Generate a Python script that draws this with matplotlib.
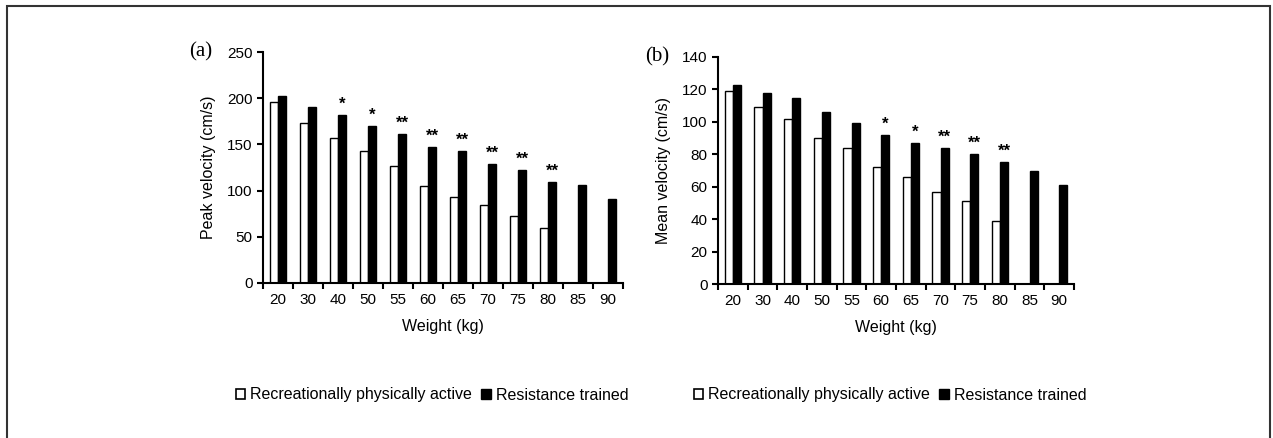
import matplotlib
matplotlib.use('Agg')
import matplotlib.pyplot as plt
from matplotlib.patches import Patch, Rectangle
import numpy as np

plt.rcParams['font.family'] = ['Liberation Sans', 'DejaVu Sans']

weights = ['20', '30', '40', '50', '55', '60', '65', '70', '75', '80', '85', '90']

# panel (a) peak velocity (cm/s)
peak_rec = [196, 173, 157, 143, 127, 105, 93, 84, 73, 59, 0, 0]
peak_res = [202, 191, 182, 170, 161, 147, 143, 129, 122, 109, 106, 91]
peak_sig = ['', '', '*', '*', '**', '**', '**', '**', '**', '**', '', '']

# panel (b) mean velocity (cm/s)
mean_rec = [119, 109, 102, 90, 84, 72, 66, 57, 51, 39, 0, 0]
mean_res = [123, 118, 115, 106, 99, 92, 87, 84, 80, 75, 70, 61]
mean_sig = ['', '', '', '', '', '*', '*', '**', '**', '**', '', '']

W, H = 1273, 438
fig = plt.figure(figsize=(W / 100, H / 100), dpi=100)

# outer frame (bottom edge is cut off in the source)
fig.patches.append(Rectangle((7 / W, -0.05), 1263 / W, 1.05 - 6 / H,
                             transform=fig.transFigure, fill=False,
                             edgecolor='#333333', linewidth=1.5))


def panel(rect, rec, res, sig, ymax, ystep, ylabel, tag):
    ax = fig.add_axes(rect)
    x = np.arange(len(weights))
    bw = 0.28
    ax.bar(x - bw / 2, rec, bw, color='white', edgecolor='black', linewidth=1)
    ax.bar(x + bw / 2, res, bw, color='black', edgecolor='black', linewidth=1)
    for i, s in enumerate(sig):
        if s:
            ax.text(x[i] + bw / 2, res[i] + ymax * 0.015, s, ha='center',
                    va='bottom', fontsize=12, fontweight='bold')
    ax.set_xlim(-0.5, len(weights) - 0.5)
    ax.set_ylim(0, ymax)
    ax.set_yticks(np.arange(0, ymax + 1, ystep))
    ax.set_xticks(x)
    ax.set_xticklabels(weights)
    ax.set_xticks(np.arange(-0.5, len(weights)), minor=True)
    ax.tick_params(axis='x', which='major', length=0, pad=7, labelsize=11)
    ax.tick_params(axis='x', which='minor', length=4, width=1.5, direction='out')
    ax.tick_params(axis='y', length=4, width=1.5, labelsize=11)
    for s in ['top', 'right']:
        ax.spines[s].set_visible(False)
    for s in ['left', 'bottom']:
        ax.spines[s].set_linewidth(1.5)
    ax.set_xlabel('Weight (kg)', fontsize=11.5, labelpad=9)
    ax.set_ylabel(ylabel, fontsize=11.5, labelpad=8)
    ax.text(-0.205, 1.0, tag, transform=ax.transAxes, ha='left', va='center',
            fontsize=15, family=['Liberation Serif', 'DejaVu Serif'])
    return ax


panel([263 / W, 1 - 283 / H, 360 / W, 231 / H], peak_rec, peak_res, peak_sig,
      250, 50, 'Peak velocity (cm/s)', '(a)')
panel([718 / W, 1 - 284 / H, 356 / W, 227 / H], mean_rec, mean_res, mean_sig,
      140, 20, 'Mean velocity (cm/s)', '(b)')

handles = [Patch(facecolor='white', edgecolor='black', linewidth=1.2),
           Patch(facecolor='black', edgecolor='black')]
labels = ['Recreationally physically active', 'Resistance trained']
for cx in [432 / W, 890 / W]:
    fig.legend(handles, labels, loc='center', bbox_to_anchor=(cx, 1 - 395 / H),
               ncol=2, frameon=False, fontsize=11.5, handlelength=0.6,
               handleheight=0.6, handletextpad=0.3, columnspacing=0.6)

fig.savefig('out.png', dpi=100)
